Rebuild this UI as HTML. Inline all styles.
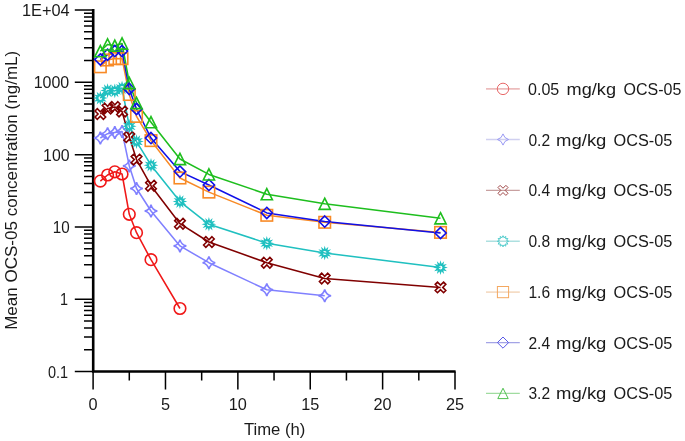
<!DOCTYPE html>
<html><head><meta charset="utf-8"><style>html,body{margin:0;padding:0;background:#fff;}svg{display:block;will-change:transform;}text{font-family:"Liberation Sans",sans-serif;fill:#1a1a1a;}</style></head><body>
<svg width="685" height="441" viewBox="0 0 685 441">
<rect width="685" height="441" fill="#fff"/>
<path d="M74.8 371.60H93.20 M84 349.83H93.20 M84 337.09H93.20 M84 328.06H93.20 M84 321.05H93.20 M84 315.32H93.20 M84 310.48H93.20 M84 306.29H93.20 M84 302.59H93.20 M74.8 299.28H93.20 M84 277.51H93.20 M84 264.77H93.20 M84 255.74H93.20 M84 248.73H93.20 M84 243.00H93.20 M84 238.16H93.20 M84 233.97H93.20 M84 230.27H93.20 M74.8 226.96H93.20 M84 205.19H93.20 M84 192.45H93.20 M84 183.42H93.20 M84 176.41H93.20 M84 170.68H93.20 M84 165.84H93.20 M84 161.65H93.20 M84 157.95H93.20 M74.8 154.64H93.20 M84 132.87H93.20 M84 120.13H93.20 M84 111.10H93.20 M84 104.09H93.20 M84 98.36H93.20 M84 93.52H93.20 M84 89.33H93.20 M84 85.63H93.20 M74.8 82.32H93.20 M84 60.55H93.20 M84 47.81H93.20 M84 38.78H93.20 M84 31.77H93.20 M84 26.04H93.20 M84 21.20H93.20 M84 17.01H93.20 M84 13.31H93.20 M74.8 10.00H93.20 M93.10 371.50V389.50 M129.29 371.50V380.50 M165.48 371.50V389.50 M201.67 371.50V380.50 M237.86 371.50V389.50 M274.05 371.50V380.50 M310.24 371.50V389.50 M346.43 371.50V380.50 M382.62 371.50V389.50 M418.81 371.50V380.50 M455.00 371.50V389.50" stroke="#000" stroke-width="1.5" fill="none"/>
<path d="M93.20 9.10V371.50H455.60" stroke="#000" stroke-width="2.6" fill="none" stroke-linejoin="miter" stroke-linecap="butt"/>
<text x="22.00" y="16.00" font-size="17.0" textLength="47.69" lengthAdjust="spacingAndGlyphs">1E+04</text>
<text x="33.70" y="88.32" font-size="17.0" textLength="35.59" lengthAdjust="spacingAndGlyphs">1000</text>
<text x="43.10" y="160.64" font-size="17.0" textLength="26.52" lengthAdjust="spacingAndGlyphs">100</text>
<text x="52.70" y="232.96" font-size="17.0" textLength="16.90" lengthAdjust="spacingAndGlyphs">10</text>
<text x="59.97" y="305.28" font-size="17.0" textLength="8.04" lengthAdjust="spacingAndGlyphs">1</text>
<text x="47.90" y="377.60" font-size="17.0" textLength="20.10" lengthAdjust="spacingAndGlyphs">0.1</text>
<text x="93.10" y="409.70" font-size="17.0" text-anchor="middle" textLength="9.07" lengthAdjust="spacingAndGlyphs">0</text>
<text x="165.48" y="409.70" font-size="17.0" text-anchor="middle" textLength="9.07" lengthAdjust="spacingAndGlyphs">5</text>
<text x="237.86" y="409.70" font-size="17.0" text-anchor="middle" textLength="18.13" lengthAdjust="spacingAndGlyphs">10</text>
<text x="310.24" y="409.70" font-size="17.0" text-anchor="middle" textLength="18.13" lengthAdjust="spacingAndGlyphs">15</text>
<text x="382.62" y="409.70" font-size="17.0" text-anchor="middle" textLength="18.13" lengthAdjust="spacingAndGlyphs">20</text>
<text x="455.00" y="409.70" font-size="17.0" text-anchor="middle" textLength="18.13" lengthAdjust="spacingAndGlyphs">25</text>
<text x="274.6" y="434.6" font-size="17.2" text-anchor="middle" textLength="61.4" lengthAdjust="spacingAndGlyphs">Time (h)</text>
<text transform="translate(17.0 190.3) rotate(-90)" x="0" y="0" font-size="17.2" text-anchor="middle" textLength="279" lengthAdjust="spacingAndGlyphs">Mean OCS-05 concentration (ng/mL)</text>
<path d="M100.34 181.10 L107.58 175.00 L114.81 171.80 L122.05 174.00 L129.29 214.30 L136.53 232.70 L151.00 259.70 L179.96 308.50" fill="none" stroke="#f01818" stroke-width="1.55" stroke-linejoin="round"/>
<path d="M100.34 138.00 L107.58 133.70 L114.81 132.60 L122.05 131.50 L129.29 165.90 L136.53 188.50 L151.00 211.00 L179.96 245.90 L208.91 262.70 L266.81 289.80 L324.72 295.80" fill="none" stroke="#8080ff" stroke-width="1.55" stroke-linejoin="round"/>
<path d="M100.34 114.00 L107.58 108.50 L114.81 107.00 L122.05 111.50 L129.29 137.10 L136.53 159.60 L151.00 185.70 L179.96 223.70 L208.91 242.00 L266.81 262.70 L324.72 278.50 L440.52 287.40" fill="none" stroke="#800000" stroke-width="1.55" stroke-linejoin="round"/>
<path d="M100.34 98.10 L107.58 90.60 L114.81 90.90 L122.05 88.00 L129.29 126.30 L136.53 141.60 L151.00 165.20 L179.96 201.60 L208.91 224.30 L266.81 243.20 L324.72 253.00 L440.52 267.60" fill="none" stroke="#20c0c0" stroke-width="1.55" stroke-linejoin="round"/>
<path d="M100.34 66.80 L107.58 60.00 L114.81 58.60 L122.05 58.70 L129.29 94.50 L136.53 116.40 L151.00 140.60 L179.96 178.00 L208.91 192.10 L266.81 215.30 L324.72 222.30 L440.52 232.40" fill="none" stroke="#f88a26" stroke-width="1.55" stroke-linejoin="round"/>
<path d="M100.34 59.50 L107.58 54.70 L114.81 51.10 L122.05 51.10 L129.29 88.90 L136.53 109.00 L151.00 138.10 L179.96 171.60 L208.91 185.00 L266.81 212.90 L324.72 221.60 L440.52 233.00" fill="none" stroke="#1010e8" stroke-width="1.55" stroke-linejoin="round"/>
<path d="M100.34 51.20 L107.58 44.40 L114.81 45.70 L122.05 43.50 L129.29 83.00 L136.53 103.00 L151.00 122.20 L179.96 159.00 L208.91 174.40 L266.81 194.20 L324.72 203.80 L440.52 218.30" fill="none" stroke="#1ebe1e" stroke-width="1.55" stroke-linejoin="round"/>
<circle cx="100.34" cy="181.10" r="5.80" fill="none" stroke="#f01818" stroke-width="1.60"/>
<circle cx="107.58" cy="175.00" r="5.80" fill="none" stroke="#f01818" stroke-width="1.60"/>
<circle cx="114.81" cy="171.80" r="5.80" fill="none" stroke="#f01818" stroke-width="1.60"/>
<circle cx="122.05" cy="174.00" r="5.80" fill="none" stroke="#f01818" stroke-width="1.60"/>
<circle cx="129.29" cy="214.30" r="5.80" fill="none" stroke="#f01818" stroke-width="1.60"/>
<circle cx="136.53" cy="232.70" r="5.80" fill="none" stroke="#f01818" stroke-width="1.60"/>
<circle cx="151.00" cy="259.70" r="5.80" fill="none" stroke="#f01818" stroke-width="1.60"/>
<circle cx="179.96" cy="308.50" r="5.80" fill="none" stroke="#f01818" stroke-width="1.60"/>
<path d="M100.34 131.70 Q101.60 136.74 106.64 138.00 Q101.60 139.26 100.34 144.30 Q99.08 139.26 94.04 138.00 Q99.08 136.74 100.34 131.70Z" fill="none" stroke="#8080ff" stroke-width="1.60" stroke-linejoin="miter" stroke-miterlimit="1"/>
<path d="M107.58 127.40 Q108.84 132.44 113.88 133.70 Q108.84 134.96 107.58 140.00 Q106.32 134.96 101.28 133.70 Q106.32 132.44 107.58 127.40Z" fill="none" stroke="#8080ff" stroke-width="1.60" stroke-linejoin="miter" stroke-miterlimit="1"/>
<path d="M114.81 126.30 Q116.07 131.34 121.11 132.60 Q116.07 133.86 114.81 138.90 Q113.55 133.86 108.51 132.60 Q113.55 131.34 114.81 126.30Z" fill="none" stroke="#8080ff" stroke-width="1.60" stroke-linejoin="miter" stroke-miterlimit="1"/>
<path d="M122.05 125.20 Q123.31 130.24 128.35 131.50 Q123.31 132.76 122.05 137.80 Q120.79 132.76 115.75 131.50 Q120.79 130.24 122.05 125.20Z" fill="none" stroke="#8080ff" stroke-width="1.60" stroke-linejoin="miter" stroke-miterlimit="1"/>
<path d="M129.29 159.60 Q130.55 164.64 135.59 165.90 Q130.55 167.16 129.29 172.20 Q128.03 167.16 122.99 165.90 Q128.03 164.64 129.29 159.60Z" fill="none" stroke="#8080ff" stroke-width="1.60" stroke-linejoin="miter" stroke-miterlimit="1"/>
<path d="M136.53 182.20 Q137.79 187.24 142.83 188.50 Q137.79 189.76 136.53 194.80 Q135.27 189.76 130.23 188.50 Q135.27 187.24 136.53 182.20Z" fill="none" stroke="#8080ff" stroke-width="1.60" stroke-linejoin="miter" stroke-miterlimit="1"/>
<path d="M151.00 204.70 Q152.26 209.74 157.30 211.00 Q152.26 212.26 151.00 217.30 Q149.74 212.26 144.70 211.00 Q149.74 209.74 151.00 204.70Z" fill="none" stroke="#8080ff" stroke-width="1.60" stroke-linejoin="miter" stroke-miterlimit="1"/>
<path d="M179.96 239.60 Q181.22 244.64 186.26 245.90 Q181.22 247.16 179.96 252.20 Q178.70 247.16 173.66 245.90 Q178.70 244.64 179.96 239.60Z" fill="none" stroke="#8080ff" stroke-width="1.60" stroke-linejoin="miter" stroke-miterlimit="1"/>
<path d="M208.91 256.40 Q210.17 261.44 215.21 262.70 Q210.17 263.96 208.91 269.00 Q207.65 263.96 202.61 262.70 Q207.65 261.44 208.91 256.40Z" fill="none" stroke="#8080ff" stroke-width="1.60" stroke-linejoin="miter" stroke-miterlimit="1"/>
<path d="M266.81 283.50 Q268.07 288.54 273.11 289.80 Q268.07 291.06 266.81 296.10 Q265.55 291.06 260.51 289.80 Q265.55 288.54 266.81 283.50Z" fill="none" stroke="#8080ff" stroke-width="1.60" stroke-linejoin="miter" stroke-miterlimit="1"/>
<path d="M324.72 289.50 Q325.98 294.54 331.02 295.80 Q325.98 297.06 324.72 302.10 Q323.46 297.06 318.42 295.80 Q323.46 294.54 324.72 289.50Z" fill="none" stroke="#8080ff" stroke-width="1.60" stroke-linejoin="miter" stroke-miterlimit="1"/>
<polygon points="103.38,108.70 105.64,110.95 102.59,114.00 105.64,117.05 103.38,119.30 100.34,116.25 97.29,119.30 95.04,117.05 98.09,114.00 95.04,110.95 97.29,108.70 100.34,111.75" fill="none" stroke="#800000" stroke-width="1.60" stroke-linejoin="miter"/>
<polygon points="110.62,103.20 112.87,105.45 109.83,108.50 112.87,111.55 110.62,113.80 107.58,110.75 104.53,113.80 102.28,111.55 105.32,108.50 102.28,105.45 104.53,103.20 107.58,106.25" fill="none" stroke="#800000" stroke-width="1.60" stroke-linejoin="miter"/>
<polygon points="117.86,101.70 120.11,103.95 117.07,107.00 120.11,110.05 117.86,112.30 114.81,109.25 111.77,112.30 109.52,110.05 112.56,107.00 109.52,103.95 111.77,101.70 114.81,104.75" fill="none" stroke="#800000" stroke-width="1.60" stroke-linejoin="miter"/>
<polygon points="125.10,106.20 127.35,108.45 124.30,111.50 127.35,114.55 125.10,116.80 122.05,113.75 119.01,116.80 116.75,114.55 119.80,111.50 116.75,108.45 119.01,106.20 122.05,109.25" fill="none" stroke="#800000" stroke-width="1.60" stroke-linejoin="miter"/>
<polygon points="132.34,131.80 134.59,134.05 131.54,137.10 134.59,140.15 132.34,142.40 129.29,139.35 126.24,142.40 123.99,140.15 127.04,137.10 123.99,134.05 126.24,131.80 129.29,134.85" fill="none" stroke="#800000" stroke-width="1.60" stroke-linejoin="miter"/>
<polygon points="139.57,154.30 141.83,156.55 138.78,159.60 141.83,162.65 139.57,164.90 136.53,161.85 133.48,164.90 131.23,162.65 134.28,159.60 131.23,156.55 133.48,154.30 136.53,157.35" fill="none" stroke="#800000" stroke-width="1.60" stroke-linejoin="miter"/>
<polygon points="154.05,180.40 156.30,182.65 153.26,185.70 156.30,188.75 154.05,191.00 151.00,187.95 147.96,191.00 145.71,188.75 148.75,185.70 145.71,182.65 147.96,180.40 151.00,183.45" fill="none" stroke="#800000" stroke-width="1.60" stroke-linejoin="miter"/>
<polygon points="183.00,218.40 185.25,220.65 182.21,223.70 185.25,226.75 183.00,229.00 179.96,225.95 176.91,229.00 174.66,226.75 177.70,223.70 174.66,220.65 176.91,218.40 179.96,221.45" fill="none" stroke="#800000" stroke-width="1.60" stroke-linejoin="miter"/>
<polygon points="211.95,236.70 214.21,238.95 211.16,242.00 214.21,245.05 211.95,247.30 208.91,244.25 205.86,247.30 203.61,245.05 206.66,242.00 203.61,238.95 205.86,236.70 208.91,239.75" fill="none" stroke="#800000" stroke-width="1.60" stroke-linejoin="miter"/>
<polygon points="269.86,257.40 272.11,259.65 269.06,262.70 272.11,265.75 269.86,268.00 266.81,264.95 263.77,268.00 261.51,265.75 264.56,262.70 261.51,259.65 263.77,257.40 266.81,260.45" fill="none" stroke="#800000" stroke-width="1.60" stroke-linejoin="miter"/>
<polygon points="327.76,273.20 330.01,275.45 326.97,278.50 330.01,281.55 327.76,283.80 324.72,280.75 321.67,283.80 319.42,281.55 322.46,278.50 319.42,275.45 321.67,273.20 324.72,276.25" fill="none" stroke="#800000" stroke-width="1.60" stroke-linejoin="miter"/>
<polygon points="443.57,282.10 445.82,284.35 442.78,287.40 445.82,290.45 443.57,292.70 440.52,289.65 437.48,292.70 435.23,290.45 438.27,287.40 435.23,284.35 437.48,282.10 440.52,285.15" fill="none" stroke="#800000" stroke-width="1.60" stroke-linejoin="miter"/>
<path d="M100.34 90.80 L101.36 94.29 L103.99 91.78 L103.13 95.31 L106.66 94.45 L104.15 97.08 L107.64 98.10 L104.15 99.12 L106.66 101.75 L103.13 100.89 L103.99 104.42 L101.36 101.91 L100.34 105.40 L99.32 101.91 L96.69 104.42 L97.55 100.89 L94.02 101.75 L96.53 99.12 L93.04 98.10 L96.53 97.08 L94.02 94.45 L97.55 95.31 L96.69 91.78 L99.32 94.29Z M98.44 98.10 a1.90 1.90 0 1 0 3.80 0 a1.90 1.90 0 1 0 -3.80 0Z" fill="#20c0c0" fill-rule="evenodd"/>
<path d="M107.58 83.30 L108.60 86.79 L111.23 84.28 L110.36 87.81 L113.90 86.95 L111.38 89.58 L114.88 90.60 L111.38 91.62 L113.90 94.25 L110.36 93.39 L111.23 96.92 L108.60 94.41 L107.58 97.90 L106.56 94.41 L103.93 96.92 L104.79 93.39 L101.25 94.25 L103.77 91.62 L100.28 90.60 L103.77 89.58 L101.25 86.95 L104.79 87.81 L103.93 84.28 L106.56 86.79Z M105.68 90.60 a1.90 1.90 0 1 0 3.80 0 a1.90 1.90 0 1 0 -3.80 0Z" fill="#20c0c0" fill-rule="evenodd"/>
<path d="M114.81 83.60 L115.83 87.09 L118.46 84.58 L117.60 88.11 L121.14 87.25 L118.62 89.88 L122.11 90.90 L118.62 91.92 L121.14 94.55 L117.60 93.69 L118.46 97.22 L115.83 94.71 L114.81 98.20 L113.79 94.71 L111.16 97.22 L112.03 93.69 L108.49 94.55 L111.01 91.92 L107.51 90.90 L111.01 89.88 L108.49 87.25 L112.03 88.11 L111.16 84.58 L113.79 87.09Z M112.91 90.90 a1.90 1.90 0 1 0 3.80 0 a1.90 1.90 0 1 0 -3.80 0Z" fill="#20c0c0" fill-rule="evenodd"/>
<path d="M122.05 80.70 L123.07 84.19 L125.70 81.68 L124.84 85.21 L128.37 84.35 L125.86 86.98 L129.35 88.00 L125.86 89.02 L128.37 91.65 L124.84 90.79 L125.70 94.32 L123.07 91.81 L122.05 95.30 L121.03 91.81 L118.40 94.32 L119.26 90.79 L115.73 91.65 L118.24 89.02 L114.75 88.00 L118.24 86.98 L115.73 84.35 L119.26 85.21 L118.40 81.68 L121.03 84.19Z M120.15 88.00 a1.90 1.90 0 1 0 3.80 0 a1.90 1.90 0 1 0 -3.80 0Z" fill="#20c0c0" fill-rule="evenodd"/>
<path d="M129.29 119.00 L130.31 122.49 L132.94 119.98 L132.08 123.51 L135.61 122.65 L133.10 125.28 L136.59 126.30 L133.10 127.32 L135.61 129.95 L132.08 129.09 L132.94 132.62 L130.31 130.11 L129.29 133.60 L128.27 130.11 L125.64 132.62 L126.50 129.09 L122.97 129.95 L125.48 127.32 L121.99 126.30 L125.48 125.28 L122.97 122.65 L126.50 123.51 L125.64 119.98 L128.27 122.49Z M127.39 126.30 a1.90 1.90 0 1 0 3.80 0 a1.90 1.90 0 1 0 -3.80 0Z" fill="#20c0c0" fill-rule="evenodd"/>
<path d="M136.53 134.30 L137.55 137.79 L140.18 135.28 L139.32 138.81 L142.85 137.95 L140.34 140.58 L143.83 141.60 L140.34 142.62 L142.85 145.25 L139.32 144.39 L140.18 147.92 L137.55 145.41 L136.53 148.90 L135.51 145.41 L132.88 147.92 L133.74 144.39 L130.21 145.25 L132.72 142.62 L129.23 141.60 L132.72 140.58 L130.21 137.95 L133.74 138.81 L132.88 135.28 L135.51 137.79Z M134.63 141.60 a1.90 1.90 0 1 0 3.80 0 a1.90 1.90 0 1 0 -3.80 0Z" fill="#20c0c0" fill-rule="evenodd"/>
<path d="M151.00 157.90 L152.02 161.39 L154.65 158.88 L153.79 162.41 L157.33 161.55 L154.81 164.18 L158.30 165.20 L154.81 166.22 L157.33 168.85 L153.79 167.99 L154.65 171.52 L152.02 169.01 L151.00 172.50 L149.98 169.01 L147.35 171.52 L148.22 167.99 L144.68 168.85 L147.20 166.22 L143.70 165.20 L147.20 164.18 L144.68 161.55 L148.22 162.41 L147.35 158.88 L149.98 161.39Z M149.10 165.20 a1.90 1.90 0 1 0 3.80 0 a1.90 1.90 0 1 0 -3.80 0Z" fill="#20c0c0" fill-rule="evenodd"/>
<path d="M179.96 194.30 L180.98 197.79 L183.61 195.28 L182.74 198.81 L186.28 197.95 L183.76 200.58 L187.26 201.60 L183.76 202.62 L186.28 205.25 L182.74 204.39 L183.61 207.92 L180.98 205.41 L179.96 208.90 L178.94 205.41 L176.31 207.92 L177.17 204.39 L173.63 205.25 L176.15 202.62 L172.66 201.60 L176.15 200.58 L173.63 197.95 L177.17 198.81 L176.31 195.28 L178.94 197.79Z M178.06 201.60 a1.90 1.90 0 1 0 3.80 0 a1.90 1.90 0 1 0 -3.80 0Z" fill="#20c0c0" fill-rule="evenodd"/>
<path d="M208.91 217.00 L209.93 220.49 L212.56 217.98 L211.70 221.51 L215.23 220.65 L212.72 223.28 L216.21 224.30 L212.72 225.32 L215.23 227.95 L211.70 227.09 L212.56 230.62 L209.93 228.11 L208.91 231.60 L207.89 228.11 L205.26 230.62 L206.12 227.09 L202.59 227.95 L205.10 225.32 L201.61 224.30 L205.10 223.28 L202.59 220.65 L206.12 221.51 L205.26 217.98 L207.89 220.49Z M207.01 224.30 a1.90 1.90 0 1 0 3.80 0 a1.90 1.90 0 1 0 -3.80 0Z" fill="#20c0c0" fill-rule="evenodd"/>
<path d="M266.81 235.90 L267.83 239.39 L270.46 236.88 L269.60 240.41 L273.13 239.55 L270.62 242.18 L274.11 243.20 L270.62 244.22 L273.13 246.85 L269.60 245.99 L270.46 249.52 L267.83 247.01 L266.81 250.50 L265.79 247.01 L263.16 249.52 L264.02 245.99 L260.49 246.85 L263.00 244.22 L259.51 243.20 L263.00 242.18 L260.49 239.55 L264.02 240.41 L263.16 236.88 L265.79 239.39Z M264.91 243.20 a1.90 1.90 0 1 0 3.80 0 a1.90 1.90 0 1 0 -3.80 0Z" fill="#20c0c0" fill-rule="evenodd"/>
<path d="M324.72 245.70 L325.74 249.19 L328.37 246.68 L327.50 250.21 L331.04 249.35 L328.52 251.98 L332.02 253.00 L328.52 254.02 L331.04 256.65 L327.50 255.79 L328.37 259.32 L325.74 256.81 L324.72 260.30 L323.70 256.81 L321.07 259.32 L321.93 255.79 L318.39 256.65 L320.91 254.02 L317.42 253.00 L320.91 251.98 L318.39 249.35 L321.93 250.21 L321.07 246.68 L323.70 249.19Z M322.82 253.00 a1.90 1.90 0 1 0 3.80 0 a1.90 1.90 0 1 0 -3.80 0Z" fill="#20c0c0" fill-rule="evenodd"/>
<path d="M440.52 260.30 L441.54 263.79 L444.17 261.28 L443.31 264.81 L446.85 263.95 L444.33 266.58 L447.82 267.60 L444.33 268.62 L446.85 271.25 L443.31 270.39 L444.17 273.92 L441.54 271.41 L440.52 274.90 L439.50 271.41 L436.87 273.92 L437.74 270.39 L434.20 271.25 L436.72 268.62 L433.22 267.60 L436.72 266.58 L434.20 263.95 L437.74 264.81 L436.87 261.28 L439.50 263.79Z M438.62 267.60 a1.90 1.90 0 1 0 3.80 0 a1.90 1.90 0 1 0 -3.80 0Z" fill="#20c0c0" fill-rule="evenodd"/>
<rect x="94.59" y="61.05" width="11.50" height="11.50" fill="none" stroke="#f88a26" stroke-width="1.60"/>
<rect x="101.83" y="54.25" width="11.50" height="11.50" fill="none" stroke="#f88a26" stroke-width="1.60"/>
<rect x="109.06" y="52.85" width="11.50" height="11.50" fill="none" stroke="#f88a26" stroke-width="1.60"/>
<rect x="116.30" y="52.95" width="11.50" height="11.50" fill="none" stroke="#f88a26" stroke-width="1.60"/>
<rect x="123.54" y="88.75" width="11.50" height="11.50" fill="none" stroke="#f88a26" stroke-width="1.60"/>
<rect x="130.78" y="110.65" width="11.50" height="11.50" fill="none" stroke="#f88a26" stroke-width="1.60"/>
<rect x="145.25" y="134.85" width="11.50" height="11.50" fill="none" stroke="#f88a26" stroke-width="1.60"/>
<rect x="174.21" y="172.25" width="11.50" height="11.50" fill="none" stroke="#f88a26" stroke-width="1.60"/>
<rect x="203.16" y="186.35" width="11.50" height="11.50" fill="none" stroke="#f88a26" stroke-width="1.60"/>
<rect x="261.06" y="209.55" width="11.50" height="11.50" fill="none" stroke="#f88a26" stroke-width="1.60"/>
<rect x="318.97" y="216.55" width="11.50" height="11.50" fill="none" stroke="#f88a26" stroke-width="1.60"/>
<rect x="434.77" y="226.65" width="11.50" height="11.50" fill="none" stroke="#f88a26" stroke-width="1.60"/>
<polygon points="100.34,53.90 105.94,59.50 100.34,65.10 94.74,59.50" fill="none" stroke="#1010e8" stroke-width="1.60"/>
<polygon points="107.58,49.10 113.18,54.70 107.58,60.30 101.98,54.70" fill="none" stroke="#1010e8" stroke-width="1.60"/>
<polygon points="114.81,45.50 120.41,51.10 114.81,56.70 109.21,51.10" fill="none" stroke="#1010e8" stroke-width="1.60"/>
<polygon points="122.05,45.50 127.65,51.10 122.05,56.70 116.45,51.10" fill="none" stroke="#1010e8" stroke-width="1.60"/>
<polygon points="129.29,83.30 134.89,88.90 129.29,94.50 123.69,88.90" fill="none" stroke="#1010e8" stroke-width="1.60"/>
<polygon points="136.53,103.40 142.13,109.00 136.53,114.60 130.93,109.00" fill="none" stroke="#1010e8" stroke-width="1.60"/>
<polygon points="151.00,132.50 156.60,138.10 151.00,143.70 145.40,138.10" fill="none" stroke="#1010e8" stroke-width="1.60"/>
<polygon points="179.96,166.00 185.56,171.60 179.96,177.20 174.36,171.60" fill="none" stroke="#1010e8" stroke-width="1.60"/>
<polygon points="208.91,179.40 214.51,185.00 208.91,190.60 203.31,185.00" fill="none" stroke="#1010e8" stroke-width="1.60"/>
<polygon points="266.81,207.30 272.41,212.90 266.81,218.50 261.21,212.90" fill="none" stroke="#1010e8" stroke-width="1.60"/>
<polygon points="324.72,216.00 330.32,221.60 324.72,227.20 319.12,221.60" fill="none" stroke="#1010e8" stroke-width="1.60"/>
<polygon points="440.52,227.40 446.12,233.00 440.52,238.60 434.92,233.00" fill="none" stroke="#1010e8" stroke-width="1.60"/>
<polygon points="100.34,45.60 105.94,56.80 94.74,56.80" fill="none" stroke="#1ebe1e" stroke-width="1.60" stroke-linejoin="miter"/>
<polygon points="107.58,38.80 113.18,50.00 101.98,50.00" fill="none" stroke="#1ebe1e" stroke-width="1.60" stroke-linejoin="miter"/>
<polygon points="114.81,40.10 120.41,51.30 109.21,51.30" fill="none" stroke="#1ebe1e" stroke-width="1.60" stroke-linejoin="miter"/>
<polygon points="122.05,37.90 127.65,49.10 116.45,49.10" fill="none" stroke="#1ebe1e" stroke-width="1.60" stroke-linejoin="miter"/>
<polygon points="129.29,77.40 134.89,88.60 123.69,88.60" fill="none" stroke="#1ebe1e" stroke-width="1.60" stroke-linejoin="miter"/>
<polygon points="136.53,97.40 142.13,108.60 130.93,108.60" fill="none" stroke="#1ebe1e" stroke-width="1.60" stroke-linejoin="miter"/>
<polygon points="151.00,116.60 156.60,127.80 145.40,127.80" fill="none" stroke="#1ebe1e" stroke-width="1.60" stroke-linejoin="miter"/>
<polygon points="179.96,153.40 185.56,164.60 174.36,164.60" fill="none" stroke="#1ebe1e" stroke-width="1.60" stroke-linejoin="miter"/>
<polygon points="208.91,168.80 214.51,180.00 203.31,180.00" fill="none" stroke="#1ebe1e" stroke-width="1.60" stroke-linejoin="miter"/>
<polygon points="266.81,188.60 272.41,199.80 261.21,199.80" fill="none" stroke="#1ebe1e" stroke-width="1.60" stroke-linejoin="miter"/>
<polygon points="324.72,198.20 330.32,209.40 319.12,209.40" fill="none" stroke="#1ebe1e" stroke-width="1.60" stroke-linejoin="miter"/>
<polygon points="440.52,212.70 446.12,223.90 434.92,223.90" fill="none" stroke="#1ebe1e" stroke-width="1.60" stroke-linejoin="miter"/>
<path d="M486.0 88.90H519.8" stroke="#ecbcbc" stroke-width="1.9" fill="none"/>
<circle cx="503.00" cy="88.90" r="5.70" fill="none" stroke="#e86868" stroke-width="1.00"/>
<text x="528.00" y="94.90" font-size="17.2" textLength="31.28" lengthAdjust="spacingAndGlyphs">0.05</text>
<text x="566.60" y="94.90" font-size="17.2" textLength="49.41" lengthAdjust="spacingAndGlyphs">mg/kg</text>
<text x="623.60" y="94.90" font-size="17.2" textLength="57.80" lengthAdjust="spacingAndGlyphs">OCS-05</text>
<path d="M486.0 139.50H519.8" stroke="#d0d0f0" stroke-width="1.4" fill="none"/>
<path d="M503.00 133.90 Q504.12 138.38 508.60 139.50 Q504.12 140.62 503.00 145.10 Q501.88 140.62 497.40 139.50 Q501.88 138.38 503.00 133.90Z" fill="none" stroke="#9a9af4" stroke-width="1.00" stroke-linejoin="miter" stroke-miterlimit="1"/>
<text x="528.40" y="145.50" font-size="17.2" textLength="21.70" lengthAdjust="spacingAndGlyphs">0.2</text>
<text x="556.10" y="145.50" font-size="17.2" textLength="50.31" lengthAdjust="spacingAndGlyphs">mg/kg</text>
<text x="613.50" y="145.50" font-size="17.2" textLength="58.80" lengthAdjust="spacingAndGlyphs">OCS-05</text>
<path d="M486.0 190.40H519.8" stroke="#c8a0a0" stroke-width="1.2" fill="none"/>
<polygon points="505.89,185.37 508.03,187.51 505.14,190.40 508.03,193.29 505.89,195.43 503.00,192.54 500.11,195.43 497.97,193.29 500.86,190.40 497.97,187.51 500.11,185.37 503.00,188.26" fill="none" stroke="#a04848" stroke-width="1.00" stroke-linejoin="miter"/>
<text x="528.40" y="196.40" font-size="17.2" textLength="21.70" lengthAdjust="spacingAndGlyphs">0.4</text>
<text x="556.10" y="196.40" font-size="17.2" textLength="50.31" lengthAdjust="spacingAndGlyphs">mg/kg</text>
<text x="613.50" y="196.40" font-size="17.2" textLength="58.80" lengthAdjust="spacingAndGlyphs">OCS-05</text>
<path d="M486.0 241.30H519.8" stroke="#ade0e0" stroke-width="1.5" fill="none"/>
<polygon points="503.00,235.70 503.96,237.73 505.80,236.45 505.61,238.69 507.85,238.50 506.57,240.34 508.60,241.30 506.57,242.26 507.85,244.10 505.61,243.91 505.80,246.15 503.96,244.87 503.00,246.90 502.04,244.87 500.20,246.15 500.39,243.91 498.15,244.10 499.43,242.26 497.40,241.30 499.43,240.34 498.15,238.50 500.39,238.69 500.20,236.45 502.04,237.73" fill="none" stroke="#50cccc" stroke-width="1.00" stroke-linejoin="miter"/>
<text x="528.40" y="247.30" font-size="17.2" textLength="21.70" lengthAdjust="spacingAndGlyphs">0.8</text>
<text x="556.10" y="247.30" font-size="17.2" textLength="50.31" lengthAdjust="spacingAndGlyphs">mg/kg</text>
<text x="613.50" y="247.30" font-size="17.2" textLength="58.80" lengthAdjust="spacingAndGlyphs">OCS-05</text>
<path d="M486.0 292.10H519.8" stroke="#f5dcc5" stroke-width="1.8" fill="none"/>
<rect x="497.40" y="286.50" width="11.20" height="11.20" fill="none" stroke="#f4a860" stroke-width="1.00"/>
<text x="528.40" y="298.10" font-size="17.2" textLength="21.70" lengthAdjust="spacingAndGlyphs">1.6</text>
<text x="556.10" y="298.10" font-size="17.2" textLength="50.31" lengthAdjust="spacingAndGlyphs">mg/kg</text>
<text x="613.50" y="298.10" font-size="17.2" textLength="58.80" lengthAdjust="spacingAndGlyphs">OCS-05</text>
<path d="M486.0 342.60H519.8" stroke="#a4a4e6" stroke-width="1.4" fill="none"/>
<polygon points="503.00,337.00 508.60,342.60 503.00,348.20 497.40,342.60" fill="none" stroke="#5a5ae8" stroke-width="1.00"/>
<text x="528.40" y="348.60" font-size="17.2" textLength="21.70" lengthAdjust="spacingAndGlyphs">2.4</text>
<text x="556.10" y="348.60" font-size="17.2" textLength="50.31" lengthAdjust="spacingAndGlyphs">mg/kg</text>
<text x="613.50" y="348.60" font-size="17.2" textLength="58.80" lengthAdjust="spacingAndGlyphs">OCS-05</text>
<path d="M486.0 393.40H519.8" stroke="#a0dca0" stroke-width="1.3" fill="none"/>
<polygon points="503.00,388.20 508.20,398.60 497.80,398.60" fill="none" stroke="#50c050" stroke-width="1.00" stroke-linejoin="miter"/>
<text x="528.40" y="399.40" font-size="17.2" textLength="21.70" lengthAdjust="spacingAndGlyphs">3.2</text>
<text x="556.10" y="399.40" font-size="17.2" textLength="50.31" lengthAdjust="spacingAndGlyphs">mg/kg</text>
<text x="613.50" y="399.40" font-size="17.2" textLength="58.80" lengthAdjust="spacingAndGlyphs">OCS-05</text>
</svg></body></html>
